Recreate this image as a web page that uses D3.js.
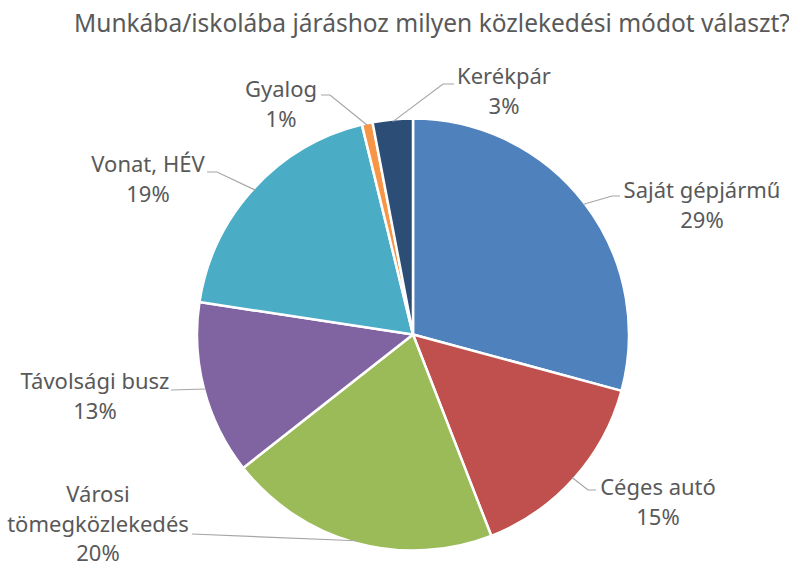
<!DOCTYPE html>
<html><head><meta charset="utf-8">
<script src="https://cdn.jsdelivr.net/npm/d3@7"></script>
<style>body{margin:0;background:#fff}svg{display:block}text{font-family:"Noto Sans","Open Sans",sans-serif;fill:#595959}</style>
</head><body><svg id="c" width="789" height="570"></svg>
<script>
const title = "Munkába/iskolába járáshoz milyen közlekedési módot választ?";
const categories = ["Saját gépjármű","Céges autó","Városi tömegközlekedés","Távolsági busz","Vonat, HÉV","Gyalog","Kerékpár"];
const labelLines = [["Saját gépjármű"],["Céges autó"],["Városi","tömegközlekedés"],["Távolsági busz"],["Vonat, HÉV"],["Gyalog"],["Kerékpár"]];
const values = [29.2, 14.9, 20.3, 13.0, 18.8, 0.8, 3.0];
const percentLabels = ["29%","15%","20%","13%","19%","1%","3%"];
const colors = ["#4F81BD","#C0504D","#9BBB59","#8064A2","#4BACC6","#F79646","#2C4D75"];
// label layout: text centre x, first baseline y, leader points (bend, end)
const labelLayout = [
  {x:702, y:198, bend:[612,196], end:[620,196]},
  {x:658, y:495, bend:[588,490], end:[596,490]},
  {x:98,  y:502, bend:[192,534], end:[192,534]},
  {x:95,  y:389, bend:[171,390], end:[171,390]},
  {x:148, y:172, bend:[217,172], end:[207,172]},
  {x:281, y:97,  bend:[330,95],  end:[321,95]},
  {x:504, y:84,  bend:[443,84],  end:[454,84]}
];

const svg = d3.select("#c");
const cx = 413, cy = 334.5, r = 216;

svg.append("text").attr("x", 432).attr("y", 32).attr("text-anchor","middle")
  .style("font-size","24.5px").text(title);

const pie = d3.pie().sort(null).value(d => d)(values);
const arc = d3.arc().innerRadius(0).outerRadius(r);
const g = svg.append("g").attr("transform",`translate(${cx},${cy})`);
g.selectAll("path").data(pie).join("path")
  .attr("d", arc).attr("fill",(d,i)=>colors[i])
  .attr("stroke","#fff").attr("stroke-width",2.5).attr("stroke-linejoin","round");

pie.forEach((d,i)=>{
  const a = (d.startAngle + d.endAngle)/2;
  const px = cx + Math.sin(a)*r*0.99, py = cy - Math.cos(a)*r*0.99;
  const L = labelLayout[i];
  svg.append("polyline")
    .attr("points", [[px,py],L.bend,L.end].map(p=>p.join(",")).join(" "))
    .attr("fill","none").attr("stroke","#A6A6A6").attr("stroke-width",1.2);
  const t = svg.append("text").attr("text-anchor","middle").style("font-size","22px");
  const lines = labelLines[i].concat([percentLabels[i]]);
  lines.forEach((s,j)=>{
    t.append("tspan").attr("x",L.x).attr("y",L.y + j*29.5).text(s);
  });
});
</script></body></html>
